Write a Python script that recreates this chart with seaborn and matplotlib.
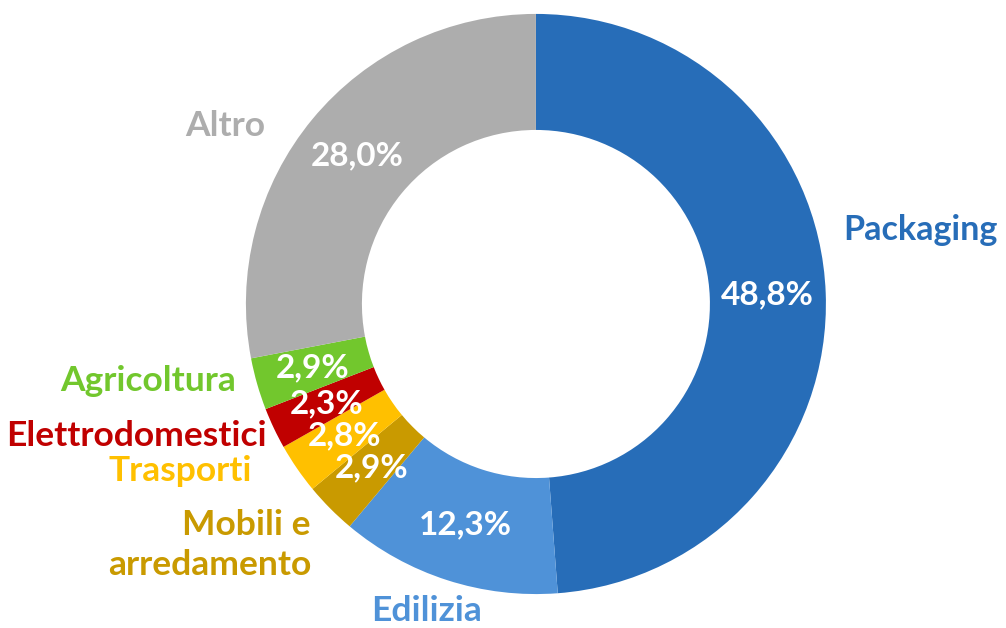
import matplotlib
matplotlib.use("Agg")
import numpy as np
import matplotlib.pyplot as plt
import seaborn as sns

# data
categories = ["Packaging", "Edilizia", "Mobili e\narredamento", "Trasporti",
              "Elettrodomestici", "Agricoltura", "Altro"]
shares = [48.8, 12.3, 2.9, 2.8, 2.3, 2.9, 28.0]
pct_labels = ["48,8%", "12,3%", "2,9%", "2,8%", "2,3%", "2,9%", "28,0%"]

colors = ["#276DB8", "#4F92D8", "#C99A00", "#FFC000", "#C00000", "#72C72D", "#ADADAD"]

# label anchors (data units, radius 1 = outer ring) and alignment
label_pos = {
    "Packaging": (1.06, 0.255, "left"),
    "Edilizia": (-0.376, -1.059, "center"),
    "Mobili e\narredamento": (-0.776, -0.831, "right"),
    "Trasporti": (-0.979, -0.576, "right"),
    "Elettrodomestici": (-0.928, -0.455, "right"),
    "Agricoltura": (-1.034, -0.266, "right"),
    "Altro": (-0.934, 0.614, "right"),
}

sns.set_theme(style="white")
plt.rcParams["font.family"] = ["Lato", "DejaVu Sans"]

fig = plt.figure(figsize=(10.06, 6.28), dpi=100)
ax = fig.add_axes([0, 0, 1, 1])

wedges, _ = ax.pie(
    shares,
    colors=colors,
    startangle=90,
    counterclock=False,
    radius=1.0,
    wedgeprops=dict(width=0.4, linewidth=0),
)

# percent labels at the middle of each ring segment
for w, txt in zip(wedges, pct_labels):
    ang = np.deg2rad((w.theta1 + w.theta2) / 2)
    ax.text(0.8 * np.cos(ang), 0.8 * np.sin(ang), txt,
            ha="center", va="center", color="white",
            fontsize=24, fontweight="bold")

for cat, col in zip(categories, colors):
    x, y, ha = label_pos[cat]
    size = 24.5 if cat == "Packaging" else 25.5
    ax.text(x, y, cat, ha=ha, va="center", color=col,
            fontsize=size, fontweight="bold", linespacing=1.3,
            multialignment=ha)

ax.set_xlim(-1.848, 1.621)
ax.set_ylim(-1.117, 1.048)
ax.set_aspect("auto")
ax.axis("off")

fig.savefig("out.png", dpi=100)
